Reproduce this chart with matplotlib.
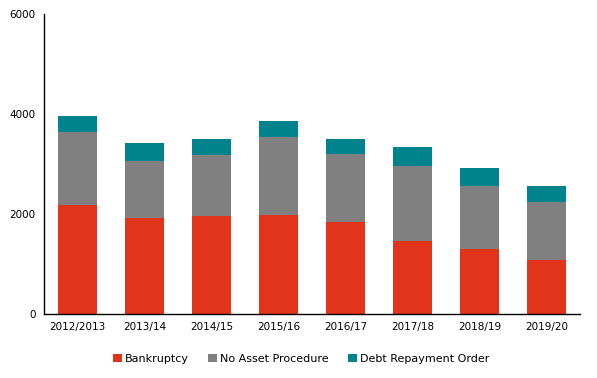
import matplotlib.pyplot as plt
import numpy as np

years = ['2012/2013', '2013/14', '2014/15', '2015/16', '2016/17', '2017/18', '2018/19', '2019/20']
bankruptcy = [2182, 1922, 1962, 1982, 1842, 1461, 1301, 1081]
no_asset = [1462, 1141, 1221, 1561, 1361, 1502, 1262, 1161]
debt_repay = [320, 360, 320, 321, 300, 380, 360, 321]

red = '#E1341A'
grey = '#808080'
teal = '#00838C'

fig = plt.figure(figsize=(5.97, 3.78), dpi=100)
ax = fig.add_axes([44 / 597, 64 / 378, 536 / 597, 299.7 / 378])

index = np.arange(len(years))
b1 = np.array(bankruptcy)
b2 = b1 + np.array(no_asset)
w = 0.57
ax.bar(index, bankruptcy, w, color=red, label='Bankruptcy')
ax.bar(index, no_asset, w, bottom=b1, color=grey, label='No Asset Procedure')
ax.bar(index, debt_repay, w, bottom=b2, color=teal, label='Debt Repayment Order')

ax.set_xlim(-0.5, len(years) - 0.5)
ax.set_ylim(0, 6000)
ax.set_yticks([0, 2000, 4000, 6000])
ax.set_xticks(index)
ax.set_xticklabels(years)
ax.tick_params(axis='both', length=0, labelsize=7.5, pad=6)
for s in ['top', 'right']:
    ax.spines[s].set_visible(False)
ax.spines['left'].set_linewidth(1)
ax.spines['bottom'].set_linewidth(1)

ax.legend(loc='upper center', bbox_to_anchor=(0.48, -0.1), ncol=3, frameon=False,
          fontsize=8, handlelength=0.8, handleheight=0.8, handletextpad=0.3, columnspacing=1.7)

fig.savefig('out.png', dpi=100)
